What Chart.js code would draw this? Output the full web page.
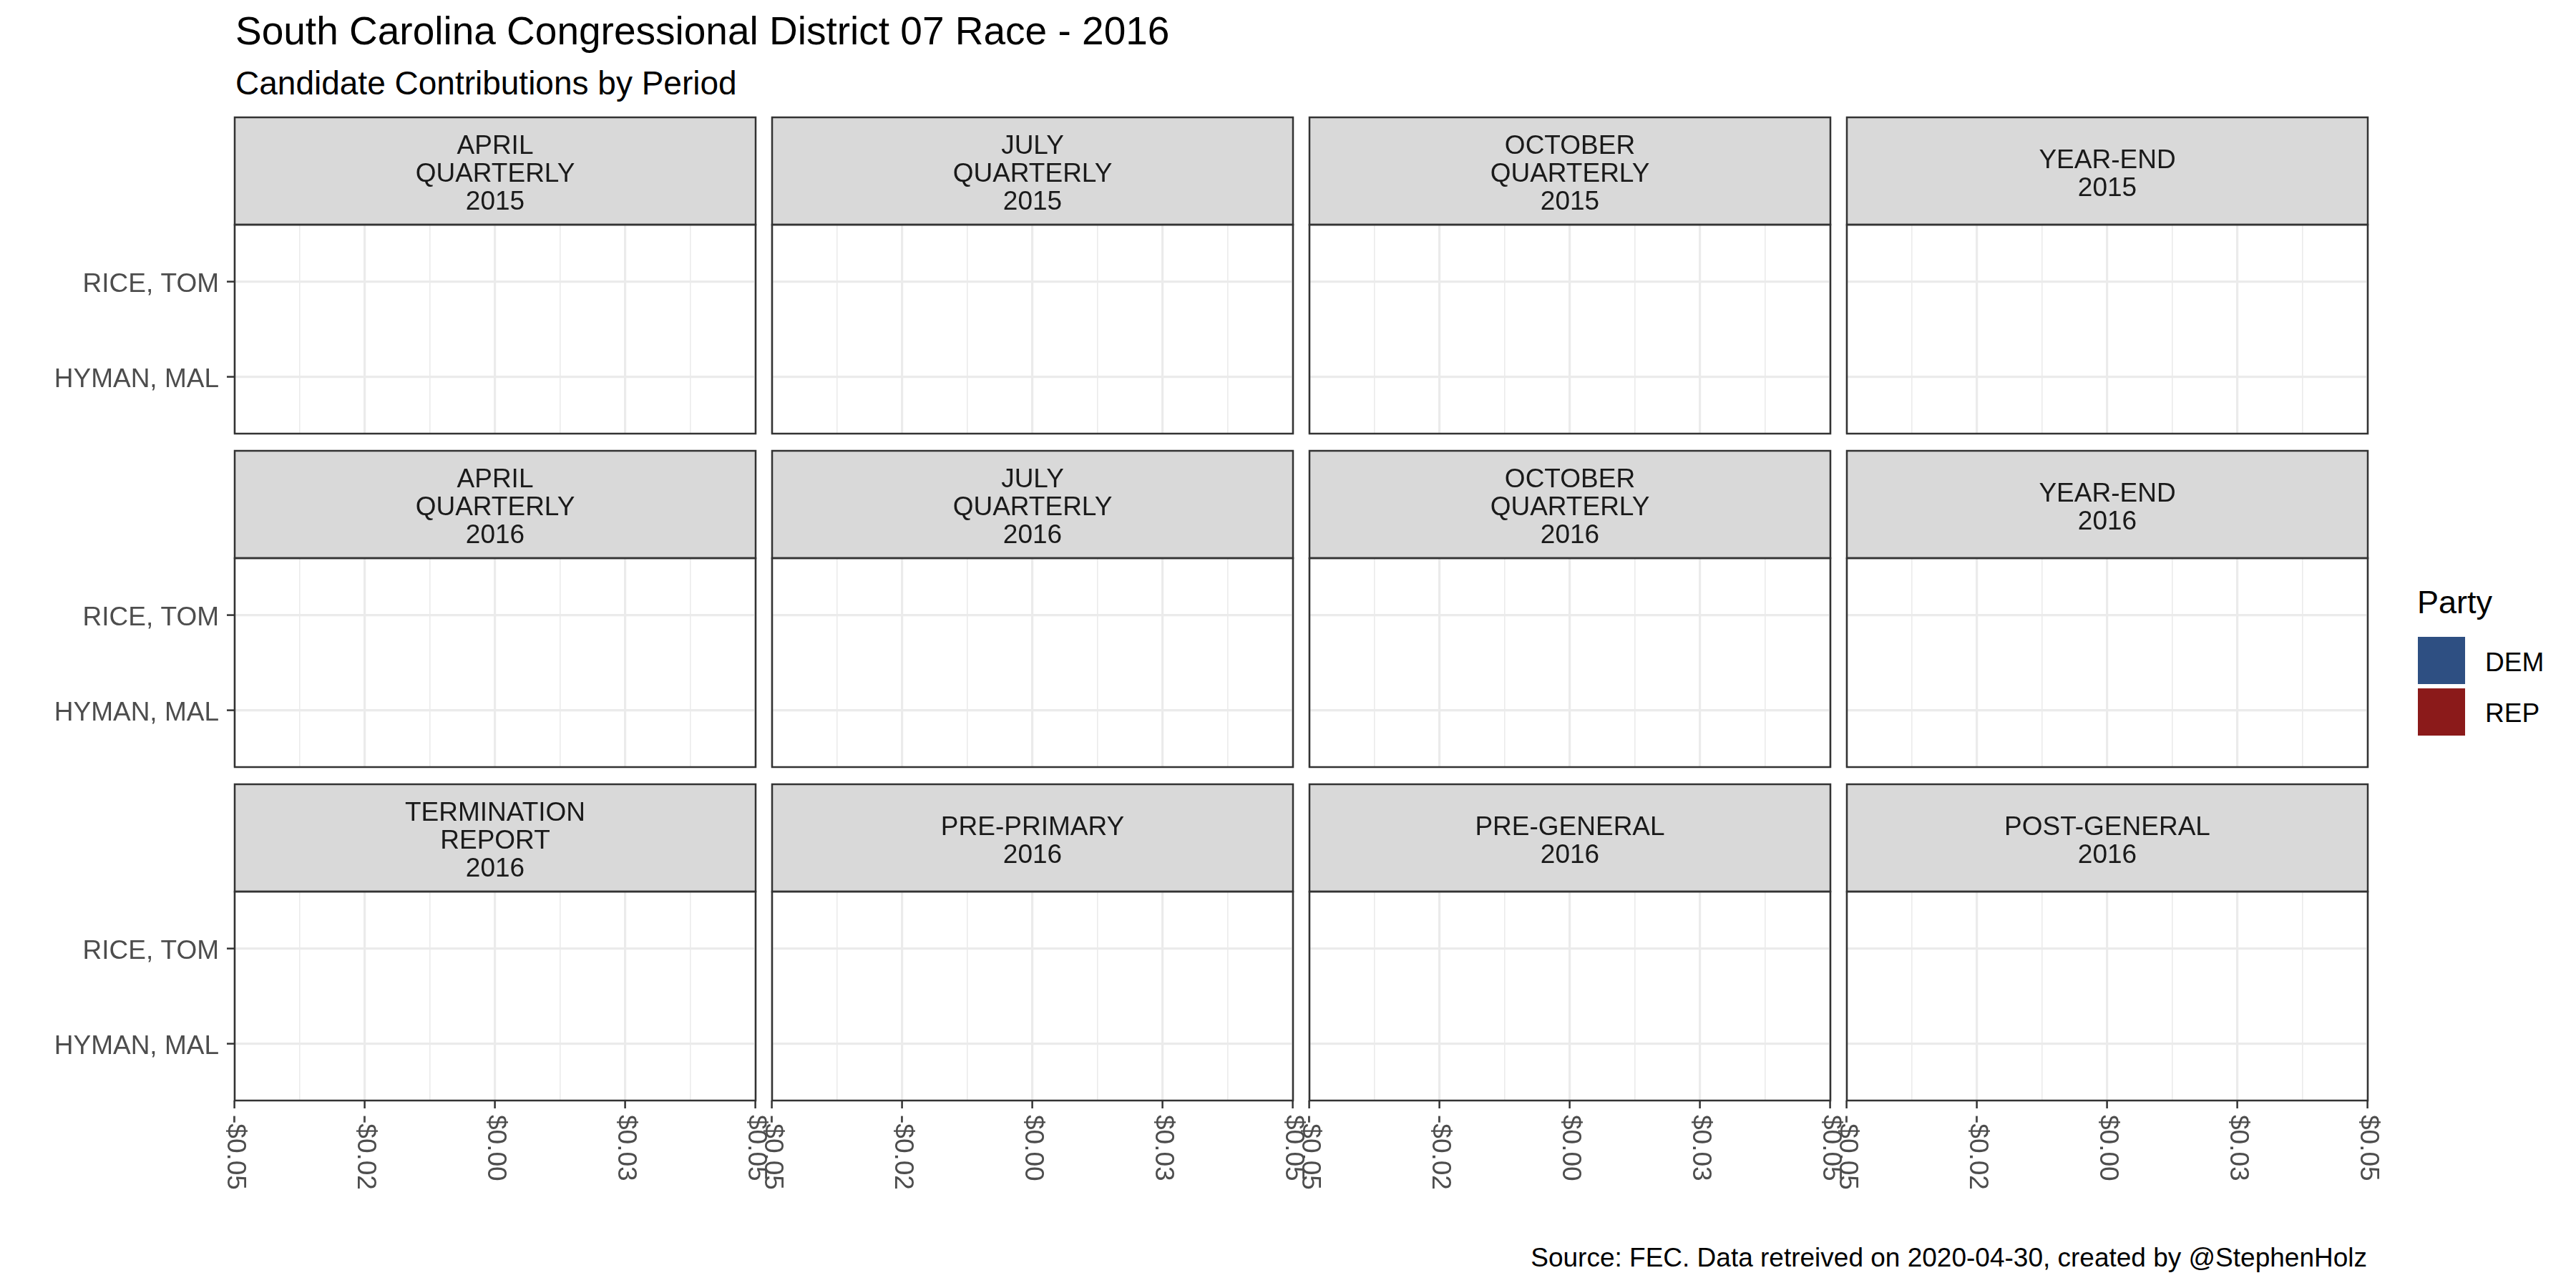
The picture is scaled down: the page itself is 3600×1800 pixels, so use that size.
<!DOCTYPE html>
<html>
<head>
<meta charset="utf-8">
<script src="https://cdn.jsdelivr.net/npm/chart.js@4.4.1/dist/chart.umd.min.js"></script>
<style>
  html, body { margin: 0; padding: 0; background: #fff; }
  #wrap { position: relative; width: 3600px; height: 1800px; overflow: hidden; font-family: "Liberation Sans", Arial, sans-serif; }
  #wrap canvas { position: absolute; }
  .txt { position: absolute; white-space: nowrap; line-height: 1; }
  .key { position: absolute; width: 66px; height: 66px; }
</style>
</head>
<body>
<div id="wrap">
  <div class="txt" style="left:329px; top:16px; font-size:55px; color:#000;">South Carolina Congressional District 07 Race - 2016</div>
  <div class="txt" style="left:329px; top:93px; font-size:46px; color:#000;">Candidate Contributions by Period</div>
  <div class="txt" style="right:292px; top:1739px; font-size:37px; color:#000;">Source: FEC. Data retreived on 2020-04-30, created by @StephenHolz</div>
  <div class="txt" style="left:3378px; top:819px; font-size:45px; color:#000;">Party</div>
  <div class="key" id="keyDem" style="left:3379px; top:890px;"></div>
  <div class="key" id="keyRep" style="left:3379px; top:962px;"></div>
  <div class="txt" id="labDem" style="left:3473px; top:907px; font-size:37px; color:#000;"></div>
  <div class="txt" id="labRep" style="left:3473px; top:978px; font-size:37px; color:#000;"></div>
</div>
<script>
// ---- data ----
const periods = [
  ["APRIL", "QUARTERLY", "2015"], ["JULY", "QUARTERLY", "2015"], ["OCTOBER", "QUARTERLY", "2015"], ["YEAR-END", "2015"],
  ["APRIL", "QUARTERLY", "2016"], ["JULY", "QUARTERLY", "2016"], ["OCTOBER", "QUARTERLY", "2016"], ["YEAR-END", "2016"],
  ["TERMINATION", "REPORT", "2016"], ["PRE-PRIMARY", "2016"], ["PRE-GENERAL", "2016"], ["POST-GENERAL", "2016"]
];
const candidates = ["HYMAN, MAL", "RICE, TOM"];
const parties = ["DEM", "REP"];
// contributions per period (none reported, so every bar is zero)
const hymanTotals = [0, 0, 0, 0, 0, 0, 0, 0, 0, 0, 0, 0];
const riceTotals = [0, 0, 0, 0, 0, 0, 0, 0, 0, 0, 0, 0];
const xMajorTicks = [-0.05, -0.025, 0, 0.025, 0.05];
const xMinorTicks = [-0.0375, -0.0125, 0.0125, 0.0375];
const xTickLabels = ["-$0.05", "-$0.02", "$0.00", "$0.03", "$0.05"];

const partyColors = ["#2E4F82", "#8B1A1A"];
const FONT = '"Liberation Sans", Arial, sans-serif';

document.getElementById("keyDem").style.background = partyColors[0];
document.getElementById("keyRep").style.background = partyColors[1];
document.getElementById("labDem").textContent = parties[0];
document.getElementById("labRep").textContent = parties[1];

const isMajor = v => xMajorTicks.some(t => Math.abs(t - v) < 1e-9);

// strip, border and rotated x labels
const panelPlugin = {
  id: "panel",
  afterDraw(chart, args, opts) {
    const { ctx, chartArea: a } = chart;
    const w = a.right - a.left;
    ctx.save();
    ctx.fillStyle = "#D9D9D9";
    ctx.fillRect(a.left, a.top - 150, w, 150);
    ctx.strokeStyle = "#333333";
    ctx.lineWidth = 2.5;
    ctx.strokeRect(a.left, a.top - 150, w, 150);
    ctx.strokeRect(a.left, a.top, w, a.bottom - a.top);

    ctx.fillStyle = "#1A1A1A";
    ctx.font = "37px " + FONT;
    ctx.textAlign = "center";
    ctx.textBaseline = "middle";
    const n = opts.lines.length;
    const cy = a.top - 70;
    opts.lines.forEach((line, i) => {
      ctx.fillText(line, (a.left + a.right) / 2, cy + (i - (n - 1) / 2) * 39);
    });

    if (opts.bottom) {
      const xs = chart.scales.x;
      ctx.fillStyle = "#4D4D4D";
      ctx.font = "37px " + FONT;
      ctx.textAlign = "left";
      ctx.textBaseline = "middle";
      xMajorTicks.forEach((v, i) => {
        ctx.save();
        ctx.translate(xs.getPixelForValue(v), a.bottom + 20);
        ctx.rotate(Math.PI / 2);
        ctx.fillText(xTickLabels[i], 0, 0);
        ctx.restore();
      });
    }
    ctx.restore();
  }
};

const wrap = document.getElementById("wrap");
const PW = 728, PH = 292, STRIP = 150;

periods.forEach((lines, i) => {
  const r = Math.floor(i / 4), c = i % 4;
  const bodyLeft = 328 + 751 * c;
  const stripTop = 164 + 466 * r;
  const left = c === 0;
  const bottom = r === 2;
  const padL = left ? 328 : 24, padR = 24, padT = STRIP + 4, padB = bottom ? 150 : 6;

  const cv = document.createElement("canvas");
  cv.width = padL + PW + padR;
  cv.height = padT + PH + padB;
  cv.style.left = (bodyLeft - padL) + "px";
  cv.style.top = (stripTop - 4) + "px";
  wrap.appendChild(cv);

  new Chart(cv.getContext("2d"), {
    type: "bar",
    data: {
      datasets: [
        { label: parties[0], data: [{ x: hymanTotals[i], y: 1 }], backgroundColor: partyColors[0] },
        { label: parties[1], data: [{ x: riceTotals[i], y: 2 }], backgroundColor: partyColors[1] }
      ]
    },
    options: {
      indexAxis: "y",
      responsive: false,
      devicePixelRatio: 1,
      animation: false,
      events: [],
      grouped: false,
      barPercentage: 0.9,
      categoryPercentage: 1,
      layout: { padding: { left: left ? 0 : padL, right: padR, top: padT, bottom: bottom ? 0 : padB } },
      scales: {
        x: {
          type: "linear",
          min: -0.05,
          max: 0.05,
          afterBuildTicks: s => {
            s.ticks = [...xMajorTicks, ...xMinorTicks].sort((a, b) => a - b).map(v => ({ value: v }));
          },
          afterFit: s => { s.height = bottom ? padB : 0; s.paddingLeft = 0; s.paddingRight = 0; },
          ticks: { display: false },
          border: { display: false },
          grid: {
            color: "#EBEBEB",
            lineWidth: ctx => (ctx.tick && isMajor(ctx.tick.value)) ? 3.2 : 1.6,
            drawTicks: bottom,
            tickLength: 11,
            tickWidth: 2.5,
            tickColor: ctx => (ctx.tick && isMajor(ctx.tick.value)) ? "#333333" : "rgba(0,0,0,0)"
          }
        },
        y: {
          type: "linear",
          position: "left",
          min: 0.4,
          max: 2.6,
          offset: false,
          afterBuildTicks: s => { s.ticks = [{ value: 1 }, { value: 2 }]; },
          afterFit: s => { s.width = left ? padL : 0; s.paddingTop = 0; s.paddingBottom = 0; },
          ticks: {
            display: left,
            padding: 11,
            labelOffset: 4,
            color: "#4D4D4D",
            font: { family: FONT, size: 37 },
            callback: v => candidates[Math.round(v) - 1]
          },
          border: { display: false },
          grid: {
            offset: false,
            color: "#EBEBEB",
            lineWidth: 3.2,
            drawTicks: left,
            tickLength: 11,
            tickWidth: 2.5,
            tickColor: "#333333"
          }
        }
      },
      plugins: {
        legend: { display: false },
        tooltip: { enabled: false },
        panel: { lines: lines, bottom: bottom }
      }
    },
    plugins: [panelPlugin]
  });
});
</script>
</body>
</html>
